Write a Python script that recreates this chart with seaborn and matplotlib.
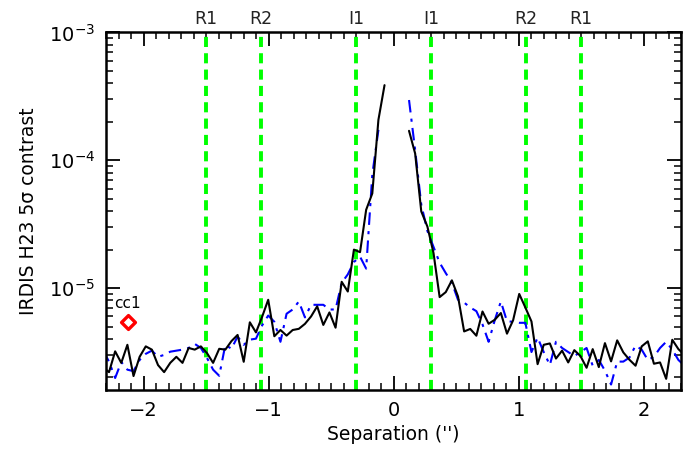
import numpy as np
import pandas as pd
import matplotlib
matplotlib.use("Agg")
import matplotlib.pyplot as plt
import seaborn as sns
from matplotlib.ticker import LogLocator, MultipleLocator, NullFormatter

# ---------------- data ----------------
step = 0.049
r0 = 0.0735
# black solid curve, left side (from outer edge k=46 to centre k=0)
black_left = [2.4e-6, 2.2e-6, 3.2e-6, 2.6e-6, 3.6e-6, 2.05e-6, 2.9e-6, 3.5e-6, 3.3e-6, 2.5e-6,
              2.2e-6, 2.6e-6, 2.9e-6, 2.6e-6, 3.4e-6, 3.3e-6, 3.5e-6, 3.1e-6, 2.6e-6, 3.35e-6,
              3.3e-6, 3.85e-6, 4.3e-6, 2.65e-6, 5.4e-6, 4.5e-6, 5.95e-6, 8.1e-6, 4.2e-6, 4.7e-6,
              4.25e-6, 4.7e-6, 4.8e-6, 5.25e-6, 6.0e-6, 7.2e-6, 5.15e-6, 6.45e-6, 4.9e-6, 1.12e-5,
              9.4e-6, 2.0e-5, 1.91e-5, 4.1e-5, 5.5e-5, 2.07e-4, 3.87e-4]
# black solid curve, right side (k=1 .. 46)
black_right = [1.70e-4, 1.13e-4, 3.98e-5, 3.03e-5, 1.88e-5, 8.5e-6, 9.3e-6, 1.15e-5, 8.6e-6, 4.58e-6,
               4.79e-6, 4.24e-6, 6.56e-6, 5.26e-6, 5.65e-6, 6.38e-6, 4.4e-6, 5.6e-6, 9.0e-6, 7.05e-6,
               5.48e-6, 2.54e-6, 3.6e-6, 3.69e-6, 2.81e-6, 3.24e-6, 2.62e-6, 3.27e-6, 2.94e-6, 2.38e-6,
               3.33e-6, 2.41e-6, 3.71e-6, 2.67e-6, 3.9e-6, 3.14e-6, 2.75e-6, 2.47e-6, 3.5e-6, 3.83e-6,
               2.56e-6, 2.62e-6, 1.95e-6, 3.94e-6, 3.33e-6, 3.0e-6]
# blue dash-dot curve, left side (k=46 .. 1)
blue_left = [3.27e-6, 2.66e-6, 1.98e-6, 2.64e-6, 2.3e-6, 2.24e-6, 2.74e-6, 3.06e-6, 3.24e-6, 2.9e-6,
             3.0e-6, 3.18e-6, 3.24e-6, 3.3e-6, 3.4e-6, 3.66e-6, 3.4e-6, 2.84e-6, 2.3e-6, 2.06e-6,
             3.6e-6, 3.35e-6, 4.18e-6, 3.6e-6, 3.95e-6, 4.02e-6, 5.1e-6, 6.1e-6, 5.45e-6, 3.8e-6,
             6.3e-6, 6.8e-6, 7.85e-6, 5.9e-6, 7.4e-6, 7.4e-6, 7.4e-6, 6.8e-6, 6.8e-6, 1.1e-5,
             1.28e-5, 1.6e-5, 1.76e-5, 1.42e-5, 7.7e-5, 1.73e-4]
# blue dash-dot curve, right side (k=1 .. 46)
blue_right = [2.96e-4, 1.2e-4, 4.5e-5, 2.8e-5, 2.1e-5, 1.58e-5, 1.31e-5, 1.1e-5, 8.1e-6, 7.7e-6,
              7.05e-6, 6.6e-6, 5.2e-6, 3.8e-6, 5.6e-6, 7.85e-6, 5.5e-6, 5.45e-6, 5.35e-6, 5.35e-6,
              3.16e-6, 4.1e-6, 3.16e-6, 2.5e-6, 3.8e-6, 3.4e-6, 3.16e-6, 2.94e-6, 3.16e-6, 3.4e-6,
              2.47e-6, 2.74e-6, 2.26e-6, 1.76e-6, 2.66e-6, 2.66e-6, 2.86e-6, 3.55e-6, 3.3e-6, 2.74e-6,
              2.9e-6, 3.4e-6, 3.8e-6, 3.3e-6, 2.74e-6, 2.47e-6]

sep_left_black = -(r0 + step * np.arange(46, -1, -1))
sep_right_black = r0 + step * np.arange(1, 47)
sep_left_blue = -(r0 + step * np.arange(46, 0, -1))
sep_right_blue = r0 + step * np.arange(1, 47)

ring_names = ["R1", "R2", "I1", "I1", "R2", "R1"]
ring_pos = [-1.50, -1.06, -0.30, 0.30, 1.06, 1.50]

cc_name = "cc1"
cc_sep = [-2.13]
cc_contrast = [5.46e-6]

# ---------------- plot ----------------
sns.set_theme(style="ticks")
plt.rcParams["font.family"] = ["DejaVu Sans"]
plt.rcParams["text.color"] = "black"
plt.rcParams["axes.labelcolor"] = "black"
plt.rcParams["xtick.color"] = "black"
plt.rcParams["ytick.color"] = "black"

fig = plt.figure(figsize=(6.95, 4.57), dpi=100)
ax = fig.add_axes([0.153, 0.147, 0.827, 0.782])

for xs, ys in [(sep_left_black, black_left), (sep_right_black, black_right)]:
    df = pd.DataFrame({"sep": xs, "c": ys})
    sns.lineplot(data=df, x="sep", y="c", ax=ax, color="black", lw=1.5,
                 estimator=None, sort=False, zorder=3)
for xs, ys in [(sep_left_blue, blue_left), (sep_right_blue, blue_right)]:
    df = pd.DataFrame({"sep": xs, "c": ys})
    sns.lineplot(data=df, x="sep", y="c", ax=ax, color="#0000ff", lw=1.5,
                 estimator=None, sort=False, linestyle=(0, (6, 3, 1.5, 3)), zorder=2)

for name, p in zip(ring_names, ring_pos):
    ax.axvline(p, color="#00ff00", lw=2.8, linestyle=(0, (2.6, 1.6)), zorder=1)
    ax.text(p, 1.012, name, transform=ax.get_xaxis_transform(), ha="center", va="bottom",
            fontsize=12.5, color="#222222")

ccdf = pd.DataFrame({"sep": cc_sep, "c": cc_contrast})
sns.scatterplot(data=ccdf, x="sep", y="c", ax=ax, marker="D", s=50, facecolor="white",
                edgecolor="red", linewidth=2.4, zorder=5)
ax.annotate(cc_name, (cc_sep[0], cc_contrast[0]), xytext=(0, 8), textcoords="offset points",
            ha="center", va="bottom", fontsize=11, color="black")

ax.set_yscale("log")
ax.set_xlim(-2.3, 2.3)
ax.set_ylim(1.6e-6, 1e-3)

ax.xaxis.set_major_locator(MultipleLocator(1))
ax.xaxis.set_minor_locator(MultipleLocator(0.1))
ax.yaxis.set_major_locator(LogLocator(base=10, numticks=10))
ax.yaxis.set_minor_locator(LogLocator(base=10, subs=np.arange(2, 10), numticks=20))
ax.yaxis.set_minor_formatter(NullFormatter())

ax.tick_params(which="both", direction="in", top=True, right=True, color="black")
ax.tick_params(which="major", length=10, width=1.3, labelsize=14, pad=8, labelcolor="black")
ax.tick_params(which="minor", length=5, width=1.1)
for s in ax.spines.values():
    s.set_linewidth(1.8)
    s.set_color("black")

ax.set_xlabel("Separation ('')", fontsize=13.5, labelpad=4, color="black")
ax.set_ylabel("IRDIS H23 5σ contrast", fontsize=13.5, labelpad=8, color="black")
ax.grid(False)

fig.savefig("out.png", dpi=100, facecolor="white")
